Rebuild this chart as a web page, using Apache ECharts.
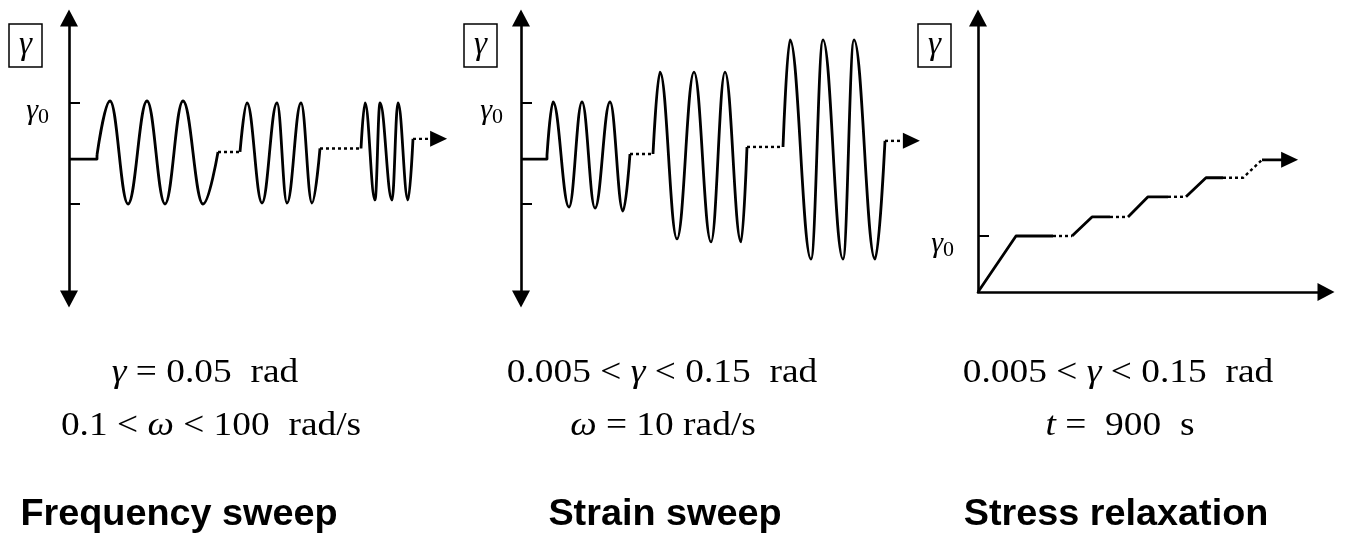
<!DOCTYPE html>
<html>
<head>
<meta charset="utf-8">
<title>Rheological test protocols</title>
<script src="https://cdn.jsdelivr.net/npm/echarts@6/dist/echarts.min.js"></script>
<style>
  html, body { margin: 0; padding: 0; background: #ffffff; }
  #main { width: 1347px; height: 542px; }
</style>
</head>
<body>
<div id="main"></div>
<script>
// Strain histories in units of the amplitude γ0, time in arbitrary units.
// Oscillation bursts are given by their start, peaks, troughs and end.

// Frequency sweep: constant amplitude, increasing frequency
const fsLead   = [[0, -0.11], [7, -0.11], [7, -0.03]];
const fsBurst1 = [[7, -0.03], [10.25, 1.04], [14.75, -1], [19.5, 1.04], [24, -1], [28.5, 1.04], [33.5, -1], [37.25, 0.03]];
const fsGap1   = [[37.25, 0.03], [42.75, 0.03]];
const fsBurst2 = [[42.75, 0.03], [44.5, 1.0], [48.25, -0.98], [52, 1.0], [54.5, -0.98], [58, 1.0], [60.75, -0.98], [62.75, 0.1]];
const fsGap2   = [[62.75, 0.1], [73, 0.1]];
const fsBurst3 = [[73, 0.1], [74, 1.0], [76.5, -0.92], [77.75, 1.0], [80.75, -0.92], [82.25, 1.0], [84.75, -0.92], [86, 0.29]];
const fsTail   = [[86, 0.29], [90.25, 0.29]];
const fsArrow  = [[92.4, 0.29]];

// Strain sweep: constant frequency, increasing amplitude
const ssLead   = [[0, -0.11], [6.5, -0.11], [6.5, -0.03]];
const ssBurst1 = [[6.5, -0.03], [8, 1.02], [12, -1.06], [15.25, 1.02], [18.5, -1.08], [22.25, 1.02], [25.5, -1.14], [27.25, -0.01]];
const ssGap1   = [[27.25, -0.01], [33, -0.01]];
const ssBurst2 = [[33, -0.01], [34.75, 1.61], [39, -1.69], [43.25, 1.61], [47.5, -1.75], [51, 1.61], [55, -1.75], [56.5, 0.13]];
const ssGap2   = [[56.5, 0.13], [65.5, 0.13]];
const ssBurst3 = [[65.5, 0.13], [67.25, 2.25], [72.5, -2.09], [75.5, 2.25], [80.5, -2.09], [83.25, 2.25], [88.5, -2.09], [91, 0.25]];
const ssTail   = [[91, 0.25], [95.5, 0.25]];
const ssArrow  = [[97.6, 0.25]];

// Stress relaxation: staircase of step strains
const srSolid = [
  [[0, 0], [9.5, 1], [18.75, 1]],
  [[23.5, 1], [28.5, 1.34], [33, 1.34]],
  [[37.5, 1.34], [42.5, 1.70], [47.5, 1.70]],
  [[52, 1.70], [57, 2.04], [61.25, 2.04]],
  [[71, 2.36], [77.9, 2.36]]
];
const srDotted = [
  [[18.75, 1], [23.5, 1]],
  [[33, 1.34], [37.5, 1.34]],
  [[47.5, 1.70], [52, 1.70]],
  [[61.25, 2.04], [66.25, 2.04], [71, 2.36]]
];
const srArrow = [[77.9, 2.36]];

// Axis marks
const sweepTicks = [1, -1];
const relaxTicks = [1];
const amplitudeLabel = [1];

// Texts
const panelTitles = ['Frequency sweep', 'Strain sweep', 'Stress relaxation'];
const fsCaption = ['{i|γ} = 0.05  rad', '0.1 < {i|ω} < 100  rad/s'];
const ssCaption = ['0.005 < {i|γ} < 0.15  rad', '{i|ω} = 10 rad/s'];
const srCaption = ['0.005 < {i|γ} < 0.15  rad', '{i|t} =  900  s'];

const INK = '#000000';
const SERIF = '"Liberation Serif", "Times New Roman", serif';
const SANS = '"Liberation Sans", Arial, sans-serif';

function curve(data, gi, opts) {
  opts = opts || {};
  return {
    type: 'line',
    xAxisIndex: gi,
    yAxisIndex: gi,
    data: data,
    smooth: opts.smooth ? 0.4 : false,
    smoothMonotone: opts.smooth ? 'x' : undefined,
    symbol: 'none',
    silent: true,
    z: opts.dotted ? 2 : 3,
    lineStyle: {
      color: INK,
      width: opts.dotted ? 2.4 : 2.8,
      type: opts.dotted ? [3, 3] : 'solid',
      join: 'round'
    }
  };
}

function arrowHead(data, gi) {
  return {
    type: 'scatter',
    xAxisIndex: gi,
    yAxisIndex: gi,
    data: data,
    symbol: 'triangle',
    symbolSize: [16, 17],
    symbolRotate: -90,
    silent: true,
    z: 4,
    itemStyle: { color: INK, opacity: 1 }
  };
}

const labelRich = {
  g: { fontFamily: SERIF, fontStyle: 'italic', fontSize: 30, lineHeight: 32, verticalAlign: 'top', color: INK },
  s: { fontFamily: SERIF, fontSize: 22, lineHeight: 32, verticalAlign: 'bottom', color: INK }
};

function strainAxis(gi, min, max, ticks, symbols, margin) {
  return {
    type: 'value',
    gridIndex: gi,
    min: min,
    max: max,
    axisLine: {
      show: true,
      onZero: false,
      symbol: symbols,
      symbolSize: [18, 17],
      lineStyle: { color: INK, width: 2.6 }
    },
    axisTick: {
      show: true,
      inside: true,
      length: 11,
      customValues: ticks,
      lineStyle: { color: INK, width: 2 }
    },
    axisLabel: {
      show: true,
      customValues: amplitudeLabel,
      formatter: function () { return '{g|γ}{s|0}'; },
      margin: margin,
      padding: [18, 0, 0, 0],
      rich: labelRich
    },
    splitLine: { show: false }
  };
}

function boxedSymbol(x) {
  return {
    text: 'γ',
    left: x,
    top: 24,
    padding: [5, 10, 5, 10],
    borderColor: INK,
    borderWidth: 1.5,
    textAlign: 'left',
    textVerticalAlign: 'top',
    textStyle: { fontFamily: SERIF, fontSize: 33, fontStyle: 'italic', fontWeight: 'normal', color: INK }
  };
}

function captionText(text, x, y) {
  return {
    type: 'text',
    x: x,
    y: y,
    scaleX: 1.1,
    silent: true,
    style: {
      text: text,
      fill: INK,
      fontFamily: SERIF,
      fontSize: 34,
      align: 'center',
      verticalAlign: 'middle',
      rich: {
        i: { fontFamily: SERIF, fontSize: 34, fontStyle: 'italic', fill: INK }
      }
    }
  };
}

function headingText(text, x) {
  return {
    type: 'text',
    x: x,
    y: 515,
    scaleX: 1.05,
    silent: true,
    style: {
      text: text,
      fill: INK,
      fontFamily: SANS,
      fontSize: 36,
      fontWeight: 'bold',
      align: 'center',
      verticalAlign: 'middle'
    }
  };
}

const chart = echarts.init(document.getElementById('main'), null, { renderer: 'canvas' });

const option = {
  backgroundColor: '#ffffff',
  animation: false,
  title: [boxedSymbol(9), boxedSymbol(464), boxedSymbol(918)],
  graphic: [
    captionText(fsCaption[0], 205, 373), captionText(fsCaption[1], 211, 426),
    captionText(ssCaption[0], 662, 373), captionText(ssCaption[1], 663, 426),
    captionText(srCaption[0], 1118, 373), captionText(srCaption[1], 1120, 426),
    headingText(panelTitles[0], 179), headingText(panelTitles[1], 665), headingText(panelTitles[2], 1116)
  ],
  grid: [
    { left: 69, top: 18, width: 400, height: 281 },
    { left: 521, top: 18, width: 400, height: 281 },
    { left: 978, top: 18, width: 348, height: 274 }
  ],
  xAxis: [
    { type: 'value', gridIndex: 0, min: 0, max: 100, show: false },
    { type: 'value', gridIndex: 1, min: 0, max: 100, show: false },
    {
      type: 'value', gridIndex: 2, min: 0, max: 87,
      axisLine: { show: true, onZero: false, symbol: ['none', 'triangle'], symbolSize: [18, 17], lineStyle: { color: INK, width: 2.6 } },
      axisTick: { show: false },
      axisLabel: { show: false },
      splitLine: { show: false }
    }
  ],
  yAxis: [
    strainAxis(0, -2.881, 2.683, sweepTicks, ['triangle', 'triangle'], 20),
    strainAxis(1, -2.881, 2.683, sweepTicks, ['triangle', 'triangle'], 18),
    strainAxis(2, 0, 4.893, relaxTicks, ['none', 'triangle'], 24)
  ],
  series: [
    curve(fsLead, 0),
    curve(fsBurst1, 0, { smooth: true }),
    curve(fsGap1, 0, { dotted: true }),
    curve(fsBurst2, 0, { smooth: true }),
    curve(fsGap2, 0, { dotted: true }),
    curve(fsBurst3, 0, { smooth: true }),
    curve(fsTail, 0, { dotted: true }),
    arrowHead(fsArrow, 0),

    curve(ssLead, 1),
    curve(ssBurst1, 1, { smooth: true }),
    curve(ssGap1, 1, { dotted: true }),
    curve(ssBurst2, 1, { smooth: true }),
    curve(ssGap2, 1, { dotted: true }),
    curve(ssBurst3, 1, { smooth: true }),
    curve(ssTail, 1, { dotted: true }),
    arrowHead(ssArrow, 1)
  ]
    .concat(srSolid.map(function (seg) { return curve(seg, 2); }))
    .concat(srDotted.map(function (seg) { return curve(seg, 2, { dotted: true }); }))
    .concat([arrowHead(srArrow, 2)])
};

chart.setOption(option);
</script>
</body>
</html>
